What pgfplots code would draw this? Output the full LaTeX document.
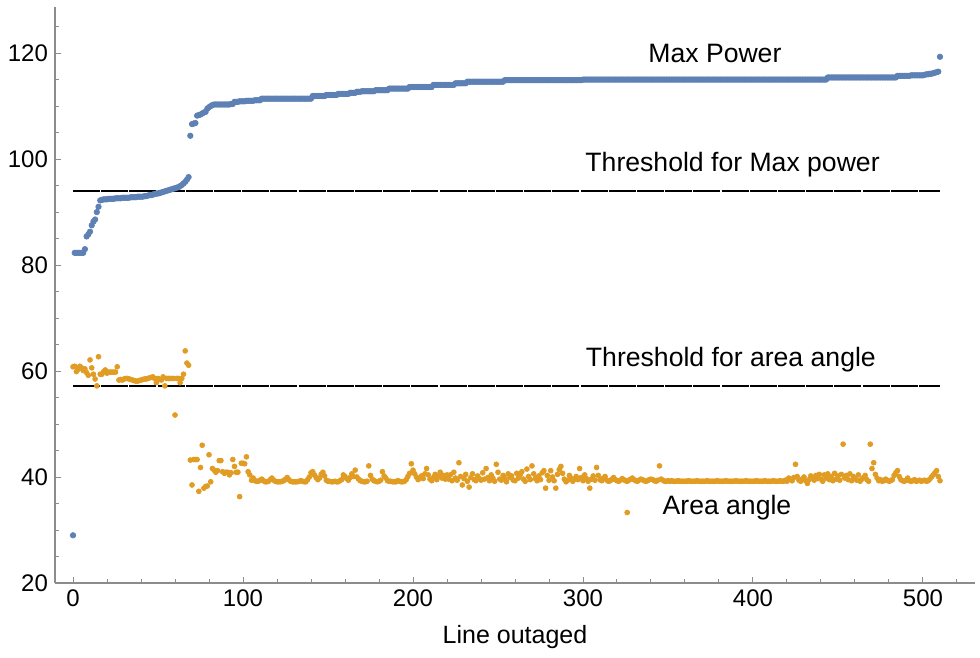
\documentclass[border=0pt]{standalone}
\usepackage{fontspec}
\setmainfont{Liberation Sans}
\usepackage{pgfplots}
\usepackage{pgfplotstable}
\pgfplotsset{compat=1.18}
\definecolor{mblue}{rgb}{0.368417,0.506779,0.709798}
\definecolor{morange}{rgb}{0.880722,0.611041,0.142051}
\definecolor{axgray}{gray}{0.55}
\pgfplotstableread[row sep=\\]{
x b o\\
0 29.0 60.8\\ 1 82.3 60.9\\ 2 82.3 59.9\\ 3 82.3 60.3\\ 4 82.3 60.9\\ 5 82.3 60.6\\ 6 82.3 60.1\\ 7 83.0 60.4\\ 8 85.4 59.7\\ 9 85.8 59.2\\
10 86.3 62.1\\ 11 87.5 60.6\\ 12 88.2 59.4\\ 13 88.6 58.5\\ 14 90.0 57.2\\ 15 91.0 62.7\\ 16 92.2 59.4\\ 17 92.3 59.4\\ 18 92.4 59.9\\ 19 92.4 60.2\\
20 92.4 59.6\\ 21 92.5 59.8\\ 22 92.5 59.8\\ 23 92.5 59.8\\ 24 92.5 59.8\\ 25 92.6 59.8\\ 26 92.6 60.8\\ 27 92.6 58.3\\ 28 92.6 58.4\\ 29 92.7 58.3\\
30 92.7 58.5\\ 31 92.7 58.6\\ 32 92.7 58.6\\ 33 92.7 58.5\\ 34 92.8 58.4\\ 35 92.8 58.3\\ 36 92.8 58.2\\ 37 92.8 58.1\\ 38 92.9 58.1\\ 39 92.9 58.2\\
40 92.9 58.3\\ 41 92.9 58.4\\ 42 93.0 58.5\\ 43 93.0 58.5\\ 44 93.1 58.6\\ 45 93.2 58.7\\ 46 93.2 58.8\\ 47 93.3 58.9\\ 48 93.4 58.6\\ 49 93.5 57.8\\
50 93.5 58.6\\ 51 93.6 58.4\\ 52 93.7 58.3\\ 53 93.8 58.9\\ 54 93.9 57.2\\ 55 94.0 58.6\\ 56 94.1 58.6\\ 57 94.2 58.6\\ 58 94.3 58.6\\ 59 94.4 58.6\\
60 94.5 51.7\\ 61 94.6 58.6\\ 62 94.7 58.6\\ 63 94.9 57.8\\ 64 95.1 58.6\\ 65 95.4 59.4\\ 66 95.7 63.8\\ 67 96.1 61.5\\ 68 96.6 61.1\\ 69 104.4 43.2\\
70 106.6 38.5\\ 71 106.7 43.3\\ 72 106.8 43.3\\ 73 108.2 43.3\\ 74 108.3 37.3\\ 75 108.4 41.8\\ 76 108.6 46.0\\ 77 108.8 37.9\\ 78 108.9 38.2\\ 79 109.5 38.3\\
80 109.8 44.2\\ 81 110.0 39.1\\ 82 110.2 41.6\\ 83 110.3 41.3\\ 84 110.3 40.9\\ 85 110.3 41.2\\ 86 110.3 43.1\\ 87 110.3 43.1\\ 88 110.3 41.0\\ 89 110.3 40.7\\
90 110.3 40.9\\ 91 110.3 40.9\\ 92 110.3 40.4\\ 93 110.4 40.8\\ 94 110.4 43.3\\ 95 110.8 42.0\\ 96 110.8 40.9\\ 97 110.8 40.9\\ 98 110.9 36.3\\ 99 110.9 42.6\\
100 110.9 42.6\\ 101 110.9 42.5\\ 102 111.0 43.8\\ 103 111.0 41.0\\ 104 111.0 40.4\\ 105 111.0 39.4\\ 106 111.0 39.8\\ 107 111.1 39.3\\ 108 111.1 39.2\\ 109 111.1 39.2\\
110 111.1 39.4\\ 111 111.4 39.6\\ 112 111.4 39.3\\ 113 111.4 39.1\\ 114 111.4 39.1\\ 115 111.4 39.2\\ 116 111.4 39.5\\ 117 111.4 39.8\\ 118 111.4 39.4\\ 119 111.4 39.2\\
120 111.4 39.1\\ 121 111.4 39.1\\ 122 111.4 39.1\\ 123 111.4 39.2\\ 124 111.4 39.3\\ 125 111.4 39.6\\ 126 111.4 39.9\\ 127 111.4 39.5\\ 128 111.4 39.2\\ 129 111.4 39.1\\
130 111.4 39.1\\ 131 111.4 39.1\\ 132 111.4 39.1\\ 133 111.4 39.2\\ 134 111.4 39.3\\ 135 111.4 39.2\\ 136 111.4 39.1\\ 137 111.4 39.1\\ 138 111.4 39.5\\ 139 111.4 40.0\\
140 111.4 40.8\\ 141 111.9 41.0\\ 142 111.9 40.4\\ 143 111.9 39.9\\ 144 111.9 39.5\\ 145 111.9 39.8\\ 146 111.9 40.5\\ 147 111.9 40.9\\ 148 111.9 40.2\\ 149 112.1 39.4\\
150 112.1 39.2\\ 151 112.1 39.2\\ 152 112.1 39.1\\ 153 112.1 39.1\\ 154 112.1 39.2\\ 155 112.1 39.1\\ 156 112.3 39.1\\ 157 112.3 39.3\\ 158 112.3 39.5\\ 159 112.3 40.4\\
160 112.3 40.1\\ 161 112.3 39.7\\ 162 112.3 39.4\\ 163 112.5 39.9\\ 164 112.5 40.6\\ 165 112.5 40.1\\ 166 112.5 41.3\\ 167 112.7 40.0\\ 168 112.7 39.6\\ 169 112.7 39.3\\
170 112.8 39.2\\ 171 112.8 39.1\\ 172 112.8 39.1\\ 173 112.8 39.2\\ 174 112.8 42.1\\ 175 112.8 40.3\\ 176 112.8 39.6\\ 177 112.8 39.3\\ 178 113.0 39.2\\ 179 113.0 39.1\\
180 113.0 39.2\\ 181 113.0 39.4\\ 182 113.0 41.0\\ 183 113.0 40.2\\ 184 113.0 39.8\\ 185 113.0 39.3\\ 186 113.3 39.2\\ 187 113.3 39.2\\ 188 113.3 39.1\\ 189 113.3 39.1\\
190 113.3 39.1\\ 191 113.3 39.3\\ 192 113.3 39.2\\ 193 113.3 39.1\\ 194 113.3 39.1\\ 195 113.3 39.2\\ 196 113.3 39.5\\ 197 113.3 40.1\\ 198 113.6 40.7\\ 199 113.6 42.5\\
200 113.6 41.3\\ 201 113.6 40.6\\ 202 113.6 40.0\\ 203 113.6 39.5\\ 204 113.6 39.8\\ 205 113.6 40.2\\ 206 113.6 39.7\\ 207 113.6 40.6\\ 208 113.6 41.6\\ 209 113.6 40.4\\
210 113.6 39.6\\ 211 113.6 39.3\\ 212 114.0 39.9\\ 213 114.0 40.5\\ 214 114.0 39.5\\ 215 114.0 40.2\\ 216 114.0 40.9\\ 217 114.0 39.8\\ 218 114.0 40.3\\ 219 114.0 39.6\\
220 114.0 40.4\\ 221 114.0 39.6\\ 222 114.0 40.4\\ 223 114.0 39.3\\ 224 114.0 40.9\\ 225 114.3 39.8\\ 226 114.3 39.4\\ 227 114.3 42.7\\ 228 114.3 40.1\\ 229 114.3 38.5\\
230 114.3 39.7\\ 231 114.3 40.5\\ 232 114.6 39.2\\ 233 114.6 38.1\\ 234 114.6 39.9\\ 235 114.6 40.6\\ 236 114.6 39.5\\ 237 114.6 39.3\\ 238 114.6 40.2\\ 239 114.6 39.7\\
240 114.6 39.4\\ 241 114.6 40.8\\ 242 114.6 39.6\\ 243 114.6 41.6\\ 244 114.6 39.9\\ 245 114.6 39.3\\ 246 114.6 40.4\\ 247 114.6 39.8\\ 248 114.6 39.2\\ 249 114.6 42.4\\
250 114.6 40.9\\ 251 114.6 39.6\\ 252 114.6 39.4\\ 253 114.6 40.3\\ 254 114.9 39.7\\ 255 114.9 39.1\\ 256 114.9 40.6\\ 257 114.9 39.9\\ 258 114.9 40.2\\ 259 114.9 39.4\\
260 114.9 39.3\\ 261 114.9 40.7\\ 262 114.9 39.8\\ 263 114.9 40.4\\ 264 114.9 41.0\\ 265 114.9 39.6\\ 266 114.9 39.2\\ 267 114.9 41.5\\ 268 114.9 40.1\\ 269 114.9 39.5\\
270 114.9 42.1\\ 271 114.9 40.6\\ 272 114.9 39.7\\ 273 114.9 39.3\\ 274 114.9 40.2\\ 275 114.9 39.5\\ 276 114.9 40.8\\ 277 114.9 41.2\\ 278 114.9 37.9\\ 279 114.9 40.3\\
280 114.9 39.4\\ 281 114.9 41.2\\ 282 114.9 40.0\\ 283 114.9 39.3\\ 284 114.9 37.9\\ 285 114.9 40.5\\ 286 114.9 41.4\\ 287 114.9 42.0\\ 288 114.9 40.7\\ 289 114.9 39.6\\
290 114.9 39.1\\ 291 114.9 39.4\\ 292 114.9 40.3\\ 293 114.9 39.8\\ 294 114.9 39.2\\ 295 114.9 39.6\\ 296 114.9 40.1\\ 297 114.9 39.5\\ 298 114.9 41.6\\ 299 114.9 39.9\\
300 115.0 39.3\\ 301 115.0 40.4\\ 302 115.0 39.7\\ 303 115.0 39.2\\ 304 115.0 37.9\\ 305 115.0 39.6\\ 306 115.0 40.2\\ 307 115.0 39.4\\ 308 115.0 41.8\\ 309 115.0 40.3\\
310 115.0 39.5\\ 311 115.0 39.3\\ 312 115.0 39.8\\ 313 115.0 40.1\\ 314 115.0 39.4\\ 315 115.0 39.2\\ 316 115.0 39.3\\ 317 115.0 39.6\\ 318 115.0 39.9\\ 319 115.0 39.5\\
320 115.0 39.3\\ 321 115.0 39.2\\ 322 115.0 39.4\\ 323 115.0 39.7\\ 324 115.0 39.5\\ 325 115.0 39.3\\ 326 115.0 39.2\\ 327 115.0 39.4\\ 328 115.0 39.6\\ 329 115.0 39.8\\
330 115.0 39.5\\ 331 115.0 39.3\\ 332 115.0 39.2\\ 333 115.0 39.4\\ 334 115.0 39.6\\ 335 115.0 39.5\\ 336 115.0 39.3\\ 337 115.0 39.2\\ 338 115.0 39.3\\ 339 115.0 39.5\\
340 115.0 39.6\\ 341 115.0 39.5\\ 342 115.0 39.3\\ 343 115.0 39.2\\ 344 115.0 39.4\\ 345 115.0 42.1\\ 346 115.0 39.6\\ 347 115.0 39.4\\ 348 115.0 39.2\\ 349 115.0 39.2\\
350 115.0 39.3\\ 351 115.0 39.2\\ 352 115.0 39.3\\ 353 115.0 39.2\\ 354 115.0 39.2\\ 355 115.0 39.2\\ 356 115.0 39.3\\ 357 115.0 39.2\\ 358 115.0 39.2\\ 359 115.0 39.2\\
360 115.0 39.2\\ 361 115.0 39.2\\ 362 115.0 39.3\\ 363 115.0 39.2\\ 364 115.0 39.2\\ 365 115.0 39.2\\ 366 115.0 39.2\\ 367 115.0 39.3\\ 368 115.0 39.2\\ 369 115.0 39.2\\
370 115.0 39.2\\ 371 115.0 39.2\\ 372 115.0 39.2\\ 373 115.0 39.3\\ 374 115.0 39.2\\ 375 115.0 39.2\\ 376 115.0 39.2\\ 377 115.0 39.2\\ 378 115.0 39.2\\ 379 115.0 39.3\\
380 115.0 39.2\\ 381 115.0 39.2\\ 382 115.0 39.2\\ 383 115.0 39.2\\ 384 115.0 39.3\\ 385 115.0 39.2\\ 386 115.0 39.2\\ 387 115.0 39.2\\ 388 115.0 39.2\\ 389 115.0 39.2\\
390 115.0 39.3\\ 391 115.0 39.2\\ 392 115.0 39.2\\ 393 115.0 39.2\\ 394 115.0 39.2\\ 395 115.0 39.2\\ 396 115.0 39.3\\ 397 115.0 39.2\\ 398 115.0 39.2\\ 399 115.0 39.2\\
400 115.0 39.2\\ 401 115.0 39.2\\ 402 115.0 39.3\\ 403 115.0 39.2\\ 404 115.0 39.2\\ 405 115.0 39.2\\ 406 115.0 39.2\\ 407 115.0 39.3\\ 408 115.0 39.2\\ 409 115.0 39.2\\
410 115.0 39.2\\ 411 115.0 39.2\\ 412 115.0 39.3\\ 413 115.0 39.2\\ 414 115.0 39.2\\ 415 115.0 39.2\\ 416 115.0 39.3\\ 417 115.0 39.2\\ 418 115.0 39.2\\ 419 115.0 39.4\\
420 115.0 39.2\\ 421 115.0 39.8\\ 422 115.0 39.5\\ 423 115.0 39.3\\ 424 115.0 39.9\\ 425 115.0 42.4\\ 426 115.0 40.1\\ 427 115.0 39.4\\ 428 115.0 39.2\\ 429 115.0 39.6\\
430 115.0 40.0\\ 431 115.0 39.3\\ 432 115.0 38.8\\ 433 115.0 39.5\\ 434 115.0 40.2\\ 435 115.0 39.8\\ 436 115.0 39.4\\ 437 115.0 40.3\\ 438 115.0 39.7\\ 439 115.0 40.5\\
440 115.0 39.6\\ 441 115.0 39.2\\ 442 115.0 40.4\\ 443 115.0 39.8\\ 444 115.4 40.6\\ 445 115.4 39.5\\ 446 115.4 40.1\\ 447 115.4 39.3\\ 448 115.4 40.7\\ 449 115.4 39.6\\
450 115.4 40.2\\ 451 115.4 39.4\\ 452 115.4 40.5\\ 453 115.4 46.2\\ 454 115.4 39.8\\ 455 115.4 40.3\\ 456 115.4 39.5\\ 457 115.4 40.6\\ 458 115.4 39.3\\ 459 115.4 40.1\\
460 115.4 39.7\\ 461 115.4 39.4\\ 462 115.4 40.4\\ 463 115.4 39.2\\ 464 115.4 39.6\\ 465 115.4 39.9\\ 466 115.4 40.3\\ 467 115.4 39.5\\ 468 115.4 39.2\\ 469 115.4 46.2\\
470 115.4 41.6\\ 471 115.4 42.7\\ 472 115.4 40.5\\ 473 115.4 39.8\\ 474 115.4 39.3\\ 475 115.4 39.5\\ 476 115.4 39.2\\ 477 115.4 39.3\\ 478 115.4 39.6\\ 479 115.4 39.4\\
480 115.4 39.2\\ 481 115.4 39.3\\ 482 115.4 39.5\\ 483 115.4 40.3\\ 484 115.4 40.8\\ 485 115.7 41.2\\ 486 115.7 40.1\\ 487 115.7 39.5\\ 488 115.7 39.3\\ 489 115.7 39.2\\
490 115.7 39.4\\ 491 115.7 39.8\\ 492 115.7 39.3\\ 493 115.8 39.2\\ 494 115.8 39.3\\ 495 115.8 39.5\\ 496 115.8 39.2\\ 497 115.8 39.3\\ 498 115.8 39.4\\ 499 115.8 39.2\\
500 115.8 39.3\\ 501 115.9 39.4\\ 502 116.0 39.2\\ 503 116.0 39.3\\ 504 116.1 39.6\\ 505 116.1 40.0\\ 506 116.2 40.4\\ 507 116.3 40.8\\ 508 116.4 41.2\\ 509 116.5 40.1\\
510 119.3 39.3\\
}\data
\begin{document}
\begin{tikzpicture}
\useasboundingbox (-27.5pt,-37.5pt) rectangle (462.5pt,291.5pt);
\begin{axis}[at={(0,0)}, anchor=south west, scale only axis,
  width=460pt, height=288pt,
  xmin=-10.6, xmax=530.6, ymin=20, ymax=128.7,
  axis lines*=left,
  axis line style={axgray, line width=0.6pt, -},
  tick align=inside,
  tick style={axgray, line width=0.5pt},
  major tick length=3pt, minor tick length=1.8pt,
  xtick={0,100,...,500}, ytick={20,40,...,120},
  minor xtick={0,20,...,520}, minor ytick={20,25,...,125},
  tick label style={font=\fontsize{12}{14}\selectfont, black},
  /pgf/number format/assume math mode=true,
  xlabel={Line outaged},
  xlabel style={font=\fontsize{12.5}{14}\selectfont, at={(axis description cs:0.5,0)}, anchor=center, yshift=-27pt},
  clip=false,
]
\addplot[black, line width=0.9pt, dash pattern=on 13.5pt off 0.6pt] coordinates {(0,94.0) (510,94.0)};
\addplot[black, line width=0.9pt, dash pattern=on 13.5pt off 0.6pt] coordinates {(0,57.2) (510,57.2)};
\addplot[only marks, mark=*, mark size=1.35pt, mblue, mark options={draw=none, fill=mblue}] table[x=x, y=b] {\data};
\addplot[only marks, mark=*, mark size=1.2pt, morange, mark options={draw=none, fill=morange}] table[x=x, y=o] {\data};
\addplot[only marks, mark=*, mark size=1.2pt, morange, mark options={draw=none, fill=morange}] coordinates {(326,33.3)};
\node[font=\fontsize{13.3}{15}\selectfont] at (axis cs:377.6,120.0) {Max Power};
\node[font=\fontsize{13.3}{15}\selectfont] at (axis cs:388,98.9) {Threshold for Max power};
\node[font=\fontsize{13.3}{15}\selectfont] at (axis cs:387,62.1) {Threshold for area angle};
\node[font=\fontsize{13.3}{15}\selectfont] at (axis cs:384.7,34.3) {Area angle};
\end{axis}
\end{tikzpicture}
\end{document}
